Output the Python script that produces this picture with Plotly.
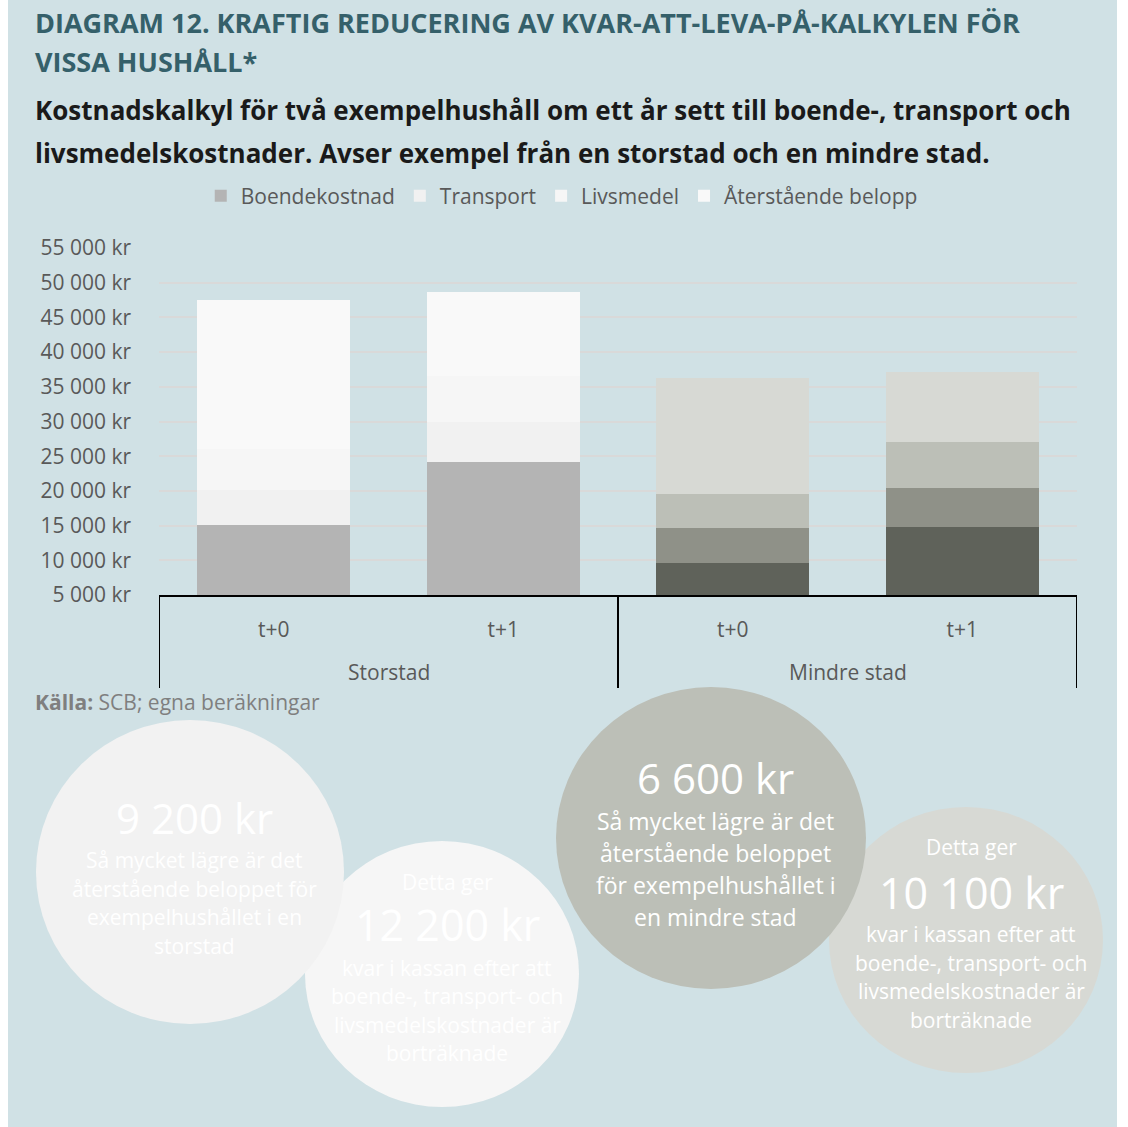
import plotly.graph_objects as go

# --- data -------------------------------------------------------------
city = ["Storstad", "Storstad", "Mindre stad", "Mindre stad"]
period = ["t+0", "t+1", "t+0", "t+1"]
groups = ["Storstad", "Mindre stad"]

boende = [15100, 24200, 9600, 14800]
transport = [5000, 5700, 5000, 5600]
livsmedel = [6000, 6600, 4900, 6600]
aterstaende = [21400, 12200, 16700, 10100]

series_names = ["Boendekostnad", "Transport", "Livsmedel", "Återstående belopp"]
series_values = [boende, transport, livsmedel, aterstaende]
# colour for (storstad, mindre stad)
series_colors = [
    ("#b4b4b4", "#5f625a"),
    ("#f1f1f1", "#8f9188"),
    ("#f6f6f6", "#bcbfb7"),
    ("#f9f9f9", "#d7d9d4"),
]

y_ticks = list(range(5000, 55001, 5000))
y_ticktext = [f"{v:,}".replace(",", " ") + " kr" for v in y_ticks]

# --- figure geometry (pixels) -----------------------------------------
W, H = 1128, 1127
L, R, T, B = 159, 51, 248, 532
PW, PH = W - L - R, H - T - B

FONT = "Open Sans"
BG = "#d0e1e5"
TEAL = "#35606a"
GREY_TXT = "#595959"


def px(x):
    return (x - L) / PW


def py(y):
    return (H - B - y) / PH


xpos = list(range(len(period)))

fig = go.Figure()
for name, vals, (c_big, c_small) in zip(series_names, series_values, series_colors):
    colors = [c_big if c == "Storstad" else c_small for c in city]
    fig.add_trace(go.Bar(
        name=name,
        x=xpos,
        y=vals,
        marker=dict(color=colors, line=dict(width=0)),
    ))

shapes = [
    dict(type="rect", xref="paper", yref="paper", layer="below",
         x0=px(8), x1=px(1117), y0=py(H + 5), y1=py(-5),
         fillcolor=BG, line=dict(width=0)),
]

# group dividers of the category axis
group_bounds = [-0.5]
for i in range(1, len(city)):
    if city[i] != city[i - 1]:
        group_bounds.append(i - 0.5)
group_bounds.append(len(city) - 0.5)
for xb in group_bounds:
    shapes.append(dict(type="line", xref="x", yref="paper", layer="above",
                       x0=xb, x1=xb, y0=0, y1=py(688),
                       line=dict(color="#000000", width=2)))

# --- bubbles (later ones are drawn on top) ----------------------------------
bubbles = [
    # (cx, cy, rx, ry, colour)
    (442, 974, 137, 133, "#f6f6f6"),
    (190, 872, 154, 152, "#f2f2f2"),
    (966, 940, 137, 133, "#d7d9d4"),
    (711, 838, 155, 151, "#bcbfb7"),
]
for cx, cy, rx, ry, col in bubbles:
    shapes.append(dict(type="circle", xref="paper", yref="paper", layer="below",
                       x0=px(cx - rx), x1=px(cx + rx), y0=py(cy + ry), y1=py(cy - ry),
                       fillcolor=col, line=dict(width=0)))

annotations = []


def text(x, y, s, size, color, anchor="left"):
    annotations.append(dict(
        xref="paper", yref="paper", x=px(x), y=py(y), text=s,
        showarrow=False, xanchor=anchor, yanchor="middle",
        font=dict(family=FONT, size=size, color=color),
    ))


# group labels under the period labels
for g in groups:
    idx = [i for i, c in enumerate(city) if c == g]
    annotations.append(dict(
        xref="x", yref="paper", x=sum(idx) / len(idx), y=py(672), text=g,
        showarrow=False, xanchor="center", yanchor="middle",
        font=dict(family=FONT, size=21, color=GREY_TXT),
    ))

text(33, 23, "<b>DIAGRAM 12. KRAFTIG REDUCERING AV KVAR-ATT-LEVA-PÅ-KALKYLEN FÖR</b>", 27, TEAL)
text(33, 61, "<b>VISSA HUSHÅLL*</b>", 27, TEAL)
text(33, 110, "<b>Kostnadskalkyl för två exempelhushåll om ett år sett till boende-, transport och</b>", 26, "#1a1a1a")
text(33, 153, "<b>livsmedelskostnader. Avser exempel från en storstad och en mindre stad.</b>", 26, "#1a1a1a")
text(33, 702, "<b>Källa:</b> SCB; egna beräkningar", 21, "#7f7f7f")

WHITE = "#ffffff"
BIG, BODY = 42, 21
# bubble 1
text(194, 817, "9 200 kr", BIG, WHITE, "center")
for i, s in enumerate(["Så mycket lägre är det", "återstående beloppet för",
                       "exempelhushållet i en", "storstad"]):
    text(194, 860 + i * 28.5, s, BODY, WHITE, "center")
# bubble 2
text(447, 882, "Detta ger", BODY, WHITE, "center")
text(447, 924, "12 200 kr", 43, WHITE, "center")
for i, s in enumerate(["kvar i kassan efter att", "boende-, transport- och",
                       "livsmedelskostnader är", "borträknade"]):
    text(447, 968 + i * 28.3, s, BODY, WHITE, "center")
# bubble 3
text(715, 777, "6 600 kr", BIG, WHITE, "center")
for i, s in enumerate(["Så mycket lägre är det", "återstående beloppet",
                       "för exempelhushållet i", "en mindre stad"]):
    text(715, 821 + i * 32, s, 23, WHITE, "center")
# bubble 4
text(971, 847, "Detta ger", BODY, WHITE, "center")
text(971, 892, "10 100 kr", 43, WHITE, "center")
for i, s in enumerate(["kvar i kassan efter att", "boende-, transport- och",
                       "livsmedelskostnader är", "borträknade"]):
    text(971, 934 + i * 28.5, s, BODY, WHITE, "center")

fig.update_layout(
    width=W, height=H,
    margin=dict(l=L, r=R, t=T, b=B, pad=0),
    paper_bgcolor="#ffffff",
    plot_bgcolor="rgba(0,0,0,0)",
    barmode="stack",
    bargap=0.333,
    font=dict(family=FONT, color=GREY_TXT),
    showlegend=True,
    legend=dict(
        orientation="h", xref="container", yref="container",
        x=0.498, xanchor="center", y=1 - 196 / H, yanchor="middle",
        font=dict(family=FONT, size=21, color=GREY_TXT),
        bgcolor="rgba(0,0,0,0)", traceorder="normal",
    ),
    xaxis=dict(
        range=[-0.5, len(period) - 0.5],
        tickvals=xpos, ticktext=period,
        showline=True, linecolor="#000000", linewidth=2,
        ticks="", tickfont=dict(family=FONT, size=21, color=GREY_TXT),
        ticklabelstandoff=15,
        showgrid=False, zeroline=False, fixedrange=True,
    ),
    yaxis=dict(
        range=[5000, 55000], tickvals=y_ticks, ticktext=y_ticktext,
        showgrid=True, gridcolor="#d9d9d9", gridwidth=2,
        zeroline=False, showline=False, ticks="",
        tickfont=dict(family=FONT, size=21, color=GREY_TXT),
        ticklabelstandoff=27,
    ),
    shapes=shapes,
    annotations=annotations,
)

fig.write_html("out.html")
